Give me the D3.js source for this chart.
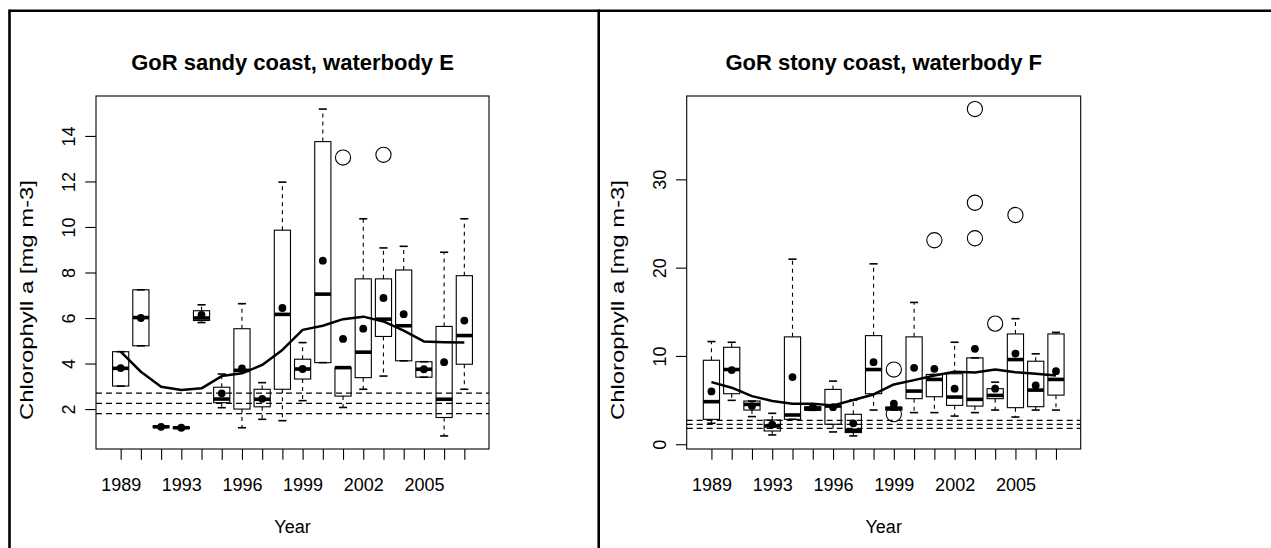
<!DOCTYPE html>
<html>
<head>
<meta charset="utf-8">
<script src="https://cdn.jsdelivr.net/npm/d3@7"></script>
<style>
  body { margin: 0; background: #fff; }
  svg { display: block; }
  text { font-family: "Liberation Sans", Arial, Helvetica, sans-serif; fill: #000; }
</style>
</head>
<body>
<svg id="chart" width="1271" height="548"></svg>
<script>
// years on the x axis (one box per year, 1991 has no data)
const years = ['1989', '1990', '1992', '1993', '1994', '1995', '1996', '1997', '1998',
  '1999', '2000', '2001', '2002', '2003', '2004', '2005', '2006', '2007'];

// reference levels (dashed lines), mg m-3
const thresholds = [1.8, 2.25, 2.7];

// waterbody E, sandy coast
const sandyLow = [3.01, 4.78, 1.20, 1.15, 5.80, 2.06, 1.18, 1.55, 1.49, 2.37, 4.04, 2.07, 2.87, 3.45, 4.12, 3.40, 0.82, 2.87];
const sandyQ1 = [3.01, 4.78, 1.20, 1.15, 5.89, 2.28, 2.00, 2.10, 2.87, 3.32, 4.04, 2.57, 3.38, 5.19, 4.12, 3.40, 1.63, 3.97];
const sandyMedian = [3.79, 6.02, 1.22, 1.18, 6.00, 2.44, 3.70, 2.43, 6.16, 3.76, 7.05, 3.82, 4.50, 5.95, 5.66, 3.75, 2.43, 5.23];
const sandyQ3 = [4.52, 7.24, 1.25, 1.21, 6.32, 2.96, 5.53, 2.87, 9.86, 4.19, 13.75, 3.82, 7.72, 7.72, 8.11, 4.08, 5.63, 7.86];
const sandyHigh = [4.52, 7.24, 1.25, 1.21, 6.58, 3.54, 6.63, 3.16, 11.97, 4.92, 15.18, 3.82, 10.36, 9.08, 9.15, 4.08, 8.89, 10.36];
const sandyMean = [3.80, 6.00, 1.22, 1.18, 6.14, 2.69, 3.79, 2.45, 6.44, 3.76, 8.52, 5.08, 5.53, 6.88, 6.17, 3.75, 4.06, 5.89];
const sandyOutYear = ['2001', '2003'];
const sandyOutValue = [13.05, 13.17];
const sandySmooth = [4.52, 3.64, 2.98, 2.84, 2.91, 3.45, 3.57, 3.94, 4.60, 5.48, 5.66, 5.95, 6.06, 5.85, 5.45, 4.97, 4.94, 4.92];
const sandyTicks = [2, 4, 6, 8, 10, 12, 14];

// waterbody F, stony coast
const stonyLow = [2.37, 4.97, 3.13, 1.05, 2.82, 3.84, 1.39, 0.94, 3.87, 3.87, 3.58, 3.58, 3.19, 3.58, 3.87, 3.08, 3.87, 3.87];
const stonyQ1 = [2.82, 5.72, 3.87, 1.50, 2.82, 3.84, 2.26, 1.32, 5.72, 3.87, 5.16, 5.38, 4.40, 4.32, 5.16, 4.14, 4.25, 5.56];
const stonyMedian = [4.82, 8.46, 4.51, 2.07, 3.31, 4.03, 4.32, 1.58, 8.46, 4.06, 6.02, 7.34, 5.34, 5.08, 5.53, 9.59, 6.13, 7.34];
const stonyQ3 = [9.51, 10.98, 4.89, 2.74, 12.16, 4.25, 6.21, 3.39, 12.30, 4.20, 12.16, 7.90, 7.98, 9.78, 6.29, 12.49, 9.40, 12.49];
const stonyHigh = [11.63, 11.55, 4.89, 3.50, 20.96, 4.25, 7.15, 5.00, 20.43, 4.20, 16.06, 7.90, 11.55, 9.78, 7.03, 14.22, 10.24, 12.67];
const stonyMean = [5.98, 8.40, 4.32, 2.22, 7.60, 4.20, 4.20, 2.37, 9.29, 4.59, 8.65, 8.54, 6.29, 10.80, 6.29, 10.27, 6.66, 8.27];
const stonyOutYear = ['1999', '1999', '2001', '2003', '2003', '2003', '2004', '2005'];
const stonyOutValue = [8.46, 3.40, 23.10, 37.96, 27.35, 23.33, 13.66, 25.96];
const stonySmooth = [7.03, 6.40, 5.45, 4.89, 4.59, 4.59, 4.40, 5.00, 5.64, 6.77, 7.26, 7.79, 8.20, 8.12, 8.46, 8.16, 7.98, 7.79];
const stonyTicks = [0, 10, 20, 30];

const panels = [
  {
    title: 'GoR sandy coast, waterbody E', left: 96, right: 489,
    low: sandyLow, q1: sandyQ1, med: sandyMedian, q3: sandyQ3, high: sandyHigh,
    mean: sandyMean, outYear: sandyOutYear, outValue: sandyOutValue, smooth: sandySmooth, ticks: sandyTicks,
  },
  {
    title: 'GoR stony coast, waterbody F', left: 686.7, right: 1080.7,
    low: stonyLow, q1: stonyQ1, med: stonyMedian, q3: stonyQ3, high: stonyHigh,
    mean: stonyMean, outYear: stonyOutYear, outValue: stonyOutValue, smooth: stonySmooth, ticks: stonyTicks,
  },
];

const plotTop = 96;
const plotBottom = 449;
const fontSize = 18;
const svg = d3.select('#chart');

// frame of the two cells
const frame = svg.append('g').attr('stroke', '#000').attr('stroke-width', 2.6);
frame.append('line').attr('x1', 9.5).attr('x2', 1271).attr('y1', 10.7).attr('y2', 10.7);
frame.append('line').attr('x1', 9.5).attr('x2', 9.5).attr('y1', 9.4).attr('y2', 548);
frame.append('line').attr('x1', 598.7).attr('x2', 598.7).attr('y1', 9.4).attr('y2', 548);

function drawPanel(p) {
  const n = years.length;
  const pad = 0.04 * n;
  const x = d3.scaleLinear().domain([0.5 - pad, n + 0.5 + pad]).range([p.left, p.right]);
  const all = p.low.concat(p.high, p.outValue);
  const lo = d3.min(all);
  const hi = d3.max(all);
  const y = d3.scaleLinear()
    .domain([lo - 0.04 * (hi - lo), hi + 0.04 * (hi - lo)])
    .range([plotBottom, plotTop]);
  const unit = x(2) - x(1);
  const boxW = 0.8 * unit;
  const capW = 0.4 * unit;
  const idx = d3.range(n);
  const g = svg.append('g');

  // whiskers
  const wh = g.append('g').attr('stroke', '#000').attr('stroke-width', 1.1).attr('stroke-dasharray', '4,4');
  wh.selectAll('line.up').data(idx).join('line')
    .attr('x1', (i) => x(i + 1)).attr('x2', (i) => x(i + 1))
    .attr('y1', (i) => y(p.q3[i])).attr('y2', (i) => y(p.high[i]));
  wh.selectAll('line.dn').data(idx).join('line')
    .attr('x1', (i) => x(i + 1)).attr('x2', (i) => x(i + 1))
    .attr('y1', (i) => y(p.q1[i])).attr('y2', (i) => y(p.low[i]));

  // staples
  const st = g.append('g').attr('stroke', '#000').attr('stroke-width', 1.6);
  st.selectAll('line.hi').data(idx).join('line')
    .attr('x1', (i) => x(i + 1) - capW / 2).attr('x2', (i) => x(i + 1) + capW / 2)
    .attr('y1', (i) => y(p.high[i])).attr('y2', (i) => y(p.high[i]));
  st.selectAll('line.lo').data(idx).join('line')
    .attr('x1', (i) => x(i + 1) - capW / 2).attr('x2', (i) => x(i + 1) + capW / 2)
    .attr('y1', (i) => y(p.low[i])).attr('y2', (i) => y(p.low[i]));

  // boxes
  g.append('g').selectAll('rect').data(idx).join('rect')
    .attr('x', (i) => x(i + 1) - boxW / 2)
    .attr('width', boxW)
    .attr('y', (i) => y(p.q3[i]))
    .attr('height', (i) => Math.max(0.5, y(p.q1[i]) - y(p.q3[i])))
    .attr('fill', 'none')
    .attr('stroke', '#000')
    .attr('stroke-width', 1.1);

  // medians
  g.append('g').selectAll('line').data(idx).join('line')
    .attr('x1', (i) => x(i + 1) - boxW / 2).attr('x2', (i) => x(i + 1) + boxW / 2)
    .attr('y1', (i) => y(p.med[i])).attr('y2', (i) => y(p.med[i]))
    .attr('stroke', '#000')
    .attr('stroke-width', 3.6);

  // outliers
  g.append('g').selectAll('circle').data(p.outValue).join('circle')
    .attr('cx', (d, k) => x(years.indexOf(p.outYear[k]) + 1))
    .attr('cy', (d) => y(d))
    .attr('r', 7.6)
    .attr('fill', 'none')
    .attr('stroke', '#000')
    .attr('stroke-width', 1.1);

  // means
  g.append('g').selectAll('circle').data(p.mean).join('circle')
    .attr('cx', (d, i) => x(i + 1))
    .attr('cy', (d) => y(d))
    .attr('r', 3.9)
    .attr('fill', '#000');

  // smoothed trend
  const line = d3.line().x((d, i) => x(i + 1)).y((d) => y(d));
  g.append('path').datum(p.smooth)
    .attr('d', line)
    .attr('fill', 'none')
    .attr('stroke', '#000')
    .attr('stroke-width', 2.5)
    .attr('stroke-linejoin', 'round');

  // reference levels
  g.append('g').selectAll('line').data(thresholds).join('line')
    .attr('x1', p.left).attr('x2', p.right)
    .attr('y1', (d) => y(d)).attr('y2', (d) => y(d))
    .attr('stroke', '#000')
    .attr('stroke-width', 1.1)
    .attr('stroke-dasharray', '6,4');

  // plot frame
  g.append('rect')
    .attr('x', p.left).attr('y', plotTop)
    .attr('width', p.right - p.left).attr('height', plotBottom - plotTop)
    .attr('fill', 'none').attr('stroke', '#000').attr('stroke-width', 1.1);

  // y axis, labels parallel to the axis
  const ya = g.append('g')
    .attr('transform', `translate(${p.left},0)`)
    .call(d3.axisLeft(y).tickValues(p.ticks).tickSize(10.8).tickSizeOuter(0));
  ya.select('.domain').remove();
  ya.selectAll('line').attr('stroke-width', 1.1);
  ya.selectAll('text')
    .attr('transform', 'rotate(-90)')
    .attr('x', 0).attr('y', -21).attr('dy', 0)
    .attr('text-anchor', 'middle')
    .attr('font-size', fontSize)
    .attr('font-family', '"Liberation Sans", Arial, sans-serif');

  // x axis
  const xa = g.append('g')
    .attr('transform', `translate(0,${plotBottom})`)
    .call(d3.axisBottom(x).tickValues(d3.range(1, n + 1)).tickFormat((i) => years[i - 1])
      .tickSize(10.8).tickSizeOuter(0));
  xa.select('.domain').remove();
  xa.selectAll('line').attr('stroke-width', 1.1);
  xa.selectAll('text')
    .attr('y', 42).attr('dy', 0)
    .attr('font-size', fontSize)
    .attr('font-family', '"Liberation Sans", Arial, sans-serif');

  // drop labels that would overlap, as R does (gap of one "m")
  const gap = fontSize * 0.833;
  let lastRight = -Infinity;
  xa.selectAll('.tick').each(function (i) {
    const t = d3.select(this).select('text');
    const w = t.node().getComputedTextLength();
    const l = x(i) - w / 2;
    if (l < lastRight + gap) t.remove();
    else lastRight = x(i) + w / 2;
  });

  // titles
  const cx = (p.left + p.right) / 2;
  g.append('text')
    .attr('x', cx).attr('y', 69.5)
    .attr('text-anchor', 'middle')
    .attr('font-size', 22)
    .attr('font-weight', 'bold')
    .text(p.title);
  g.append('text')
    .attr('x', cx).attr('y', 533)
    .attr('text-anchor', 'middle')
    .attr('font-size', fontSize)
    .text('Year');
  // the rotated axis title is drawn wider than the horizontal text in the original
  g.append('text')
    .attr('transform', `translate(${p.left - 63},300) rotate(-90)`)
    .attr('text-anchor', 'middle')
    .attr('font-size', fontSize)
    .attr('textLength', 240)
    .attr('lengthAdjust', 'spacingAndGlyphs')
    .text('Chlorophyll a [mg m-3]');
}

panels.forEach(drawPanel);
</script>
</body>
</html>
